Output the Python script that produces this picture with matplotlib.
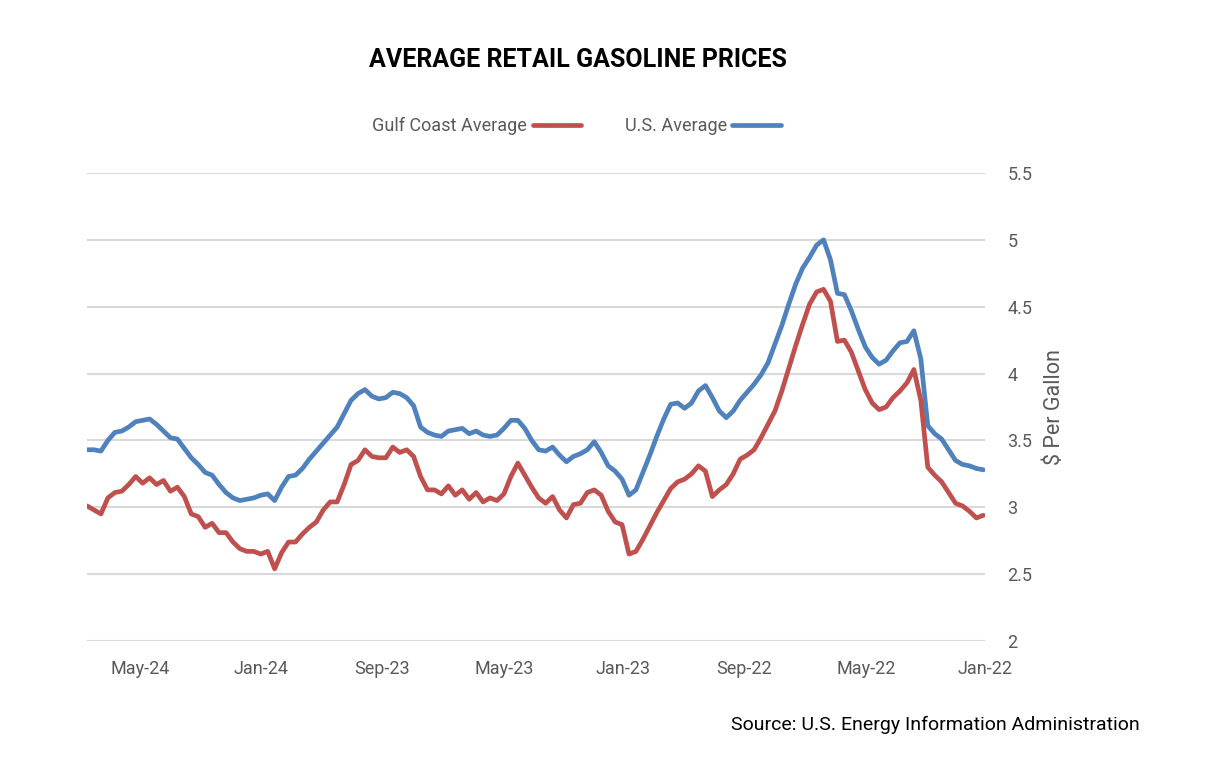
import matplotlib
matplotlib.use("Agg")
import matplotlib.pyplot as plt
import matplotlib.dates as mdates
import pandas as pd

# weekly retail prices, first week of Jan 2022 onward ($/gal)
first_week = "2022-01-03"
us_avg = [
    3.28, 3.29, 3.31, 3.32, 3.35, 3.43, 3.51, 3.55, 3.61, 4.11,
    4.32, 4.24, 4.23, 4.17, 4.10, 4.07, 4.12, 4.20, 4.33, 4.47,
    4.59, 4.60, 4.85, 5.00, 4.96, 4.87, 4.79, 4.67, 4.52, 4.36,
    4.22, 4.08, 3.99, 3.92, 3.86, 3.80, 3.72, 3.67, 3.72, 3.82,
    3.91, 3.87, 3.78, 3.74, 3.78, 3.77, 3.66, 3.53, 3.39, 3.26,
    3.13, 3.09, 3.21, 3.27, 3.31, 3.41, 3.49, 3.43, 3.40, 3.38,
    3.34, 3.39, 3.45, 3.42, 3.43, 3.50, 3.59, 3.65, 3.65, 3.59,
    3.54, 3.53, 3.54, 3.57, 3.55, 3.59, 3.58, 3.57, 3.53, 3.54,
    3.56, 3.60, 3.76, 3.82, 3.85, 3.86, 3.82, 3.81, 3.83, 3.88,
    3.85, 3.80, 3.70, 3.60, 3.54, 3.48, 3.42, 3.36, 3.29, 3.24,
    3.23, 3.15, 3.05, 3.10, 3.09, 3.07, 3.06, 3.05, 3.07, 3.11,
    3.17, 3.24, 3.26, 3.32, 3.37, 3.44, 3.51, 3.52, 3.57, 3.62,
    3.66, 3.65, 3.64, 3.60, 3.57, 3.56, 3.50, 3.42, 3.43, 3.43,
]
gulf_avg = [
    2.94, 2.92, 2.97, 3.01, 3.03, 3.11, 3.19, 3.24, 3.30, 3.80,
    4.03, 3.93, 3.87, 3.82, 3.75, 3.73, 3.78, 3.88, 4.02, 4.16,
    4.25, 4.24, 4.54, 4.63, 4.61, 4.52, 4.37, 4.21, 4.04, 3.87,
    3.72, 3.62, 3.52, 3.43, 3.39, 3.36, 3.25, 3.17, 3.13, 3.08,
    3.27, 3.31, 3.25, 3.21, 3.19, 3.14, 3.05, 2.96, 2.86, 2.76,
    2.67, 2.65, 2.87, 2.89, 2.97, 3.09, 3.13, 3.11, 3.03, 3.02,
    2.92, 2.98, 3.08, 3.03, 3.07, 3.15, 3.24, 3.33, 3.23, 3.10,
    3.05, 3.07, 3.04, 3.11, 3.06, 3.13, 3.09, 3.16, 3.10, 3.13,
    3.13, 3.23, 3.38, 3.43, 3.41, 3.45, 3.37, 3.37, 3.38, 3.43,
    3.35, 3.32, 3.17, 3.04, 3.04, 2.98, 2.89, 2.85, 2.80, 2.74,
    2.74, 2.66, 2.54, 2.67, 2.65, 2.67, 2.67, 2.69, 2.74, 2.81,
    2.81, 2.88, 2.85, 2.93, 2.95, 3.08, 3.15, 3.12, 3.20, 3.17,
    3.22, 3.18, 3.23, 3.17, 3.12, 3.11, 3.07, 2.95, 2.98, 3.01,
]
y_ticks = [2, 2.5, 3, 3.5, 4, 4.5, 5, 5.5]

weeks = pd.date_range(first_week, periods=len(us_avg), freq="W-MON")

plt.rcParams["font.family"] = ["Roboto", "DejaVu Sans"]
gray = "#595959"

fig = plt.figure(figsize=(12.09, 7.59), dpi=100)
ax = fig.add_axes([0.072, 0.1555, 0.743, 0.6166])

ax.plot(weeks, us_avg, color="#4f81bd", lw=3.4, label="U.S. Average",
        solid_capstyle="round", solid_joinstyle="round")
ax.plot(weeks, gulf_avg, color="#c0504d", lw=3.4, label="Gulf Coast Average",
        solid_capstyle="round", solid_joinstyle="round")

# time runs right-to-left, value axis on the right
ax.set_xlim(weeks[-1], pd.Timestamp("2022-01-01"))
ax.set_ylim(2, 5.5)
ax.set_yticks(y_ticks)
ax.set_yticklabels([f"{v:g}" for v in y_ticks])
ax.yaxis.tick_right()
ax.yaxis.set_label_position("right")
ax.xaxis.set_major_locator(mdates.MonthLocator(bymonth=[1, 5, 9]))
ax.xaxis.set_major_formatter(mdates.DateFormatter("%b-%y"))
ax.tick_params(axis="both", length=0, colors=gray, labelsize=13)
ax.tick_params(axis="y", pad=16)
ax.tick_params(axis="x", pad=14)
ax.grid(axis="y", color="#d9d9d9", lw=1.5)
ax.set_axisbelow(True)
for s in ax.spines.values():
    s.set_visible(False)
ax.set_ylabel("$ Per Gallon", color=gray, fontsize=15.5, rotation=90, labelpad=8)

fig.text(0.478, 0.921, "AVERAGE RETAIL GASOLINE PRICES", ha="center", va="center",
         fontsize=18, fontweight="bold", color="black")

h, l = ax.get_legend_handles_labels()
fig.legend(h[::-1], l[::-1], loc="center", bbox_to_anchor=(0.477, 0.834), ncol=2,
           frameon=False, markerfirst=False, fontsize=13, labelcolor=gray,
           handlelength=2.7, columnspacing=2.4, handletextpad=0.3)

fig.text(0.943, 0.045, "Source: U.S. Energy Information Administration",
         ha="right", va="center", fontsize=14, color="black")

fig.savefig("out.png", dpi=100, facecolor="white")
